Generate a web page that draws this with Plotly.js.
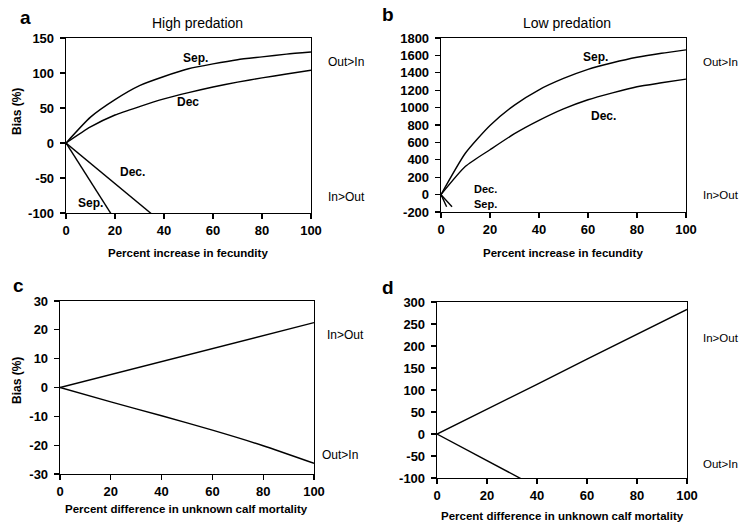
<!DOCTYPE html>
<html>
<head>
<meta charset="utf-8">
<script src="https://cdn.plot.ly/plotly-3.0.1.min.js"></script>
<style>html,body{margin:0;padding:0;background:#fff}#chart{width:740px;height:524px}</style>
</head>
<body>
<div id="chart"></div>
<script>
// ---- data ----
const xFec = [0, 10, 20, 30, 40, 50, 60, 70, 80, 90, 100];
// panel a: high predation
const aSepUp = [0, 37, 62, 82, 95, 106, 113, 119, 123, 127, 130];
const aDecUp = [0, 23, 40, 52, 63, 72, 80, 87, 93, 98.5, 104];
const aSepLowX = [0, 10, 20];
const aSepLowY = [0, -55, -110];
const aDecLowX = [0, 10, 20, 30, 40];
const aDecLowY = [0, -29, -58, -87, -116];
// panel b: low predation
const bSepUp = [0, 478, 795, 1029, 1205, 1335, 1440, 1515, 1578, 1625, 1664];
const bDecUp = [0, 325, 516, 700, 853, 985, 1090, 1170, 1240, 1285, 1327];
const bSepLowX = [0, 2.3];
const bSepLowY = [0, -140];
const bDecLowX = [0, 4.5];
const bDecLowY = [0, -140];
// panels c, d: unknown calf mortality
const xMort = [0, 20, 40, 60, 80, 100];
const cUp = [0, 4.5, 9, 13.5, 18, 22.5];
const cLow = [0, -5, -9.8, -14.8, -20.2, -26.3];
const dUp = [0, 56, 113, 170, 226, 283];
const dLowX = [0, 10, 20, 30, 40];
const dLowY = [0, -30, -61, -91, -121];
// tick labels
const xTicks = [0, 20, 40, 60, 80, 100];
const aTicks = [-100, -50, 0, 50, 100, 150];
const bTicks = [-200, 0, 200, 400, 600, 800, 1000, 1200, 1400, 1600, 1800];
const cTicks = [-30, -20, -10, 0, 10, 20, 30];
const dTicks = [-100, -50, 0, 50, 100, 150, 200, 250, 300];

const W = 740, H = 524;
const px = v => v / W, py = v => 1 - v / H;

function tr(x, y, xa, ya, smooth) {
  return {x: x, y: y, xaxis: xa, yaxis: ya, type: 'scatter', mode: 'lines',
    line: {color: '#000', width: 1.4, shape: smooth ? 'spline' : 'linear', smoothing: 0.6},
    hoverinfo: 'skip', showlegend: false};
}
const data = [
  tr(xFec, aSepUp, 'x', 'y', true), tr(xFec, aDecUp, 'x', 'y', true),
  tr(aSepLowX, aSepLowY, 'x', 'y'), tr(aDecLowX, aDecLowY, 'x', 'y'),
  tr(xFec, bSepUp, 'x2', 'y2', true), tr(xFec, bDecUp, 'x2', 'y2', true),
  tr(bSepLowX, bSepLowY, 'x2', 'y2'), tr(bDecLowX, bDecLowY, 'x2', 'y2'),
  tr(xMort, cUp, 'x3', 'y3'), tr(xMort, cLow, 'x3', 'y3', true),
  tr(xMort, dUp, 'x4', 'y4'), tr(dLowX, dLowY, 'x4', 'y4')
];

const FAM = 'Liberation Sans, Arial, sans-serif';
const tickfont = {family: FAM, size: 13, color: '#000', weight: 'bold'};
const lbl = v => String(v); // plain hyphen-minus as in the reference
function xax(l, r, anchor) {
  return {domain: [px(l), px(r)], range: [0, 100], tickmode: 'array', tickvals: xTicks, ticktext: xTicks.map(lbl),
    anchor: anchor, showline: true, mirror: true, linecolor: '#000', linewidth: 1.3, ticks: 'outside', ticklen: 5,
    tickwidth: 1.2, tickcolor: '#000', showgrid: false, zeroline: false, tickfont: tickfont, fixedrange: true};
}
function yax(t, b, anchor, r0, r1, tv) {
  return {domain: [py(b), py(t)], range: [r0, r1], tickmode: 'array', tickvals: tv, ticktext: tv.map(lbl),
    anchor: anchor, showline: true, mirror: true, linecolor: '#000', linewidth: 1.3, ticks: 'outside', ticklen: 5,
    tickwidth: 1.2, tickcolor: '#000', showgrid: false, zeroline: false, tickfont: tickfont,
    ticklabelstandoff: 3, fixedrange: true};
}

function pa(text, x, y, opts) {
  return Object.assign({text: text, xref: 'paper', yref: 'paper', x: px(x), y: py(y), showarrow: false,
    xanchor: 'center', yanchor: 'middle', font: {family: FAM, size: 12, color: '#000'}}, opts || {});
}
function da(text, x, y, xr, yr, size) {
  return {text: text, xref: xr, yref: yr, x: x, y: y, showarrow: false, xanchor: 'center', yanchor: 'middle',
    font: {family: FAM, size: size || 12, color: '#000', weight: 'bold'}};
}
const bold = (s) => ({family: FAM, size: s, color: '#000', weight: 'bold'});
const reg = (s) => ({family: FAM, size: s, color: '#000'});

const annotations = [
  // panel letters
  pa('a', 25, 17, {font: bold(19)}), pa('b', 388, 15, {font: bold(19)}),
  pa('c', 18, 285, {font: bold(19)}), pa('d', 388, 287, {font: bold(19)}),
  // titles
  pa('High predation', 197, 23, {font: reg(14)}), pa('Low predation', 567, 23, {font: reg(14)}),
  // x titles
  pa('Percent increase in fecundity', 188, 253, {font: bold(11.5)}),
  pa('Percent increase in fecundity', 563, 253, {font: bold(11.5)}),
  pa('Percent difference in unknown calf mortality', 187, 509, {font: bold(11.5)}),
  pa('Percent difference in unknown calf mortality', 562, 516, {font: bold(11.5)}),
  // y titles
  pa('Bias (%)', 17, 112, {font: bold(12), textangle: -90}),
  pa('Bias (%)', 17, 381, {font: bold(12), textangle: -90}),
  // side labels
  pa('Out>In', 326, 62, {xanchor: 'left', font: reg(12)}), pa('In>Out', 326, 197, {xanchor: 'left', font: reg(12)}),
  pa('Out>In', 701, 62, {xanchor: 'left', font: reg(11.5)}), pa('In>Out', 701, 195, {xanchor: 'left', font: reg(11.5)}),
  pa('In>Out', 325, 335, {xanchor: 'left', font: reg(12)}), pa('Out>In', 320, 455, {xanchor: 'left', font: reg(12)}),
  pa('In>Out', 701, 338, {xanchor: 'left', font: reg(11.5)}), pa('Out>In', 701, 464, {xanchor: 'left', font: reg(11.5)}),
  // curve labels
  da('Sep.', 52.7, 122, 'x', 'y'), da('Dec', 49.8, 58, 'x', 'y'),
  da('Dec.', 27.3, -42, 'x', 'y'), da('Sep.', 10.2, -86, 'x', 'y'),
  da('Sep.', 62.9, 1587, 'x2', 'y2'), da('Dec.', 66.3, 898, 'x2', 'y2'),
  da('Dec.', 18, 70, 'x2', 'y2', 11), da('Sep.', 18, -112, 'x2', 'y2', 11)
];

const layout = {
  width: W, height: H, margin: {l: 0, r: 0, t: 0, b: 0}, paper_bgcolor: '#fff', plot_bgcolor: '#fff',
  showlegend: false,
  xaxis: xax(66, 311, 'y'), yaxis: yax(38, 213, 'x', -100, 150, aTicks),
  xaxis2: xax(441, 686, 'y2'), yaxis2: yax(38, 212, 'x2', -200, 1800, bTicks),
  xaxis3: xax(60, 314, 'y3'), yaxis3: yax(301, 474, 'x3', -30, 30, cTicks),
  xaxis4: xax(437, 687, 'y4'), yaxis4: yax(302, 478, 'x4', -100, 300, dTicks),
  annotations: annotations
};
Plotly.newPlot('chart', data, layout, {staticPlot: true, displayModeBar: false});
</script>
</body>
</html>
